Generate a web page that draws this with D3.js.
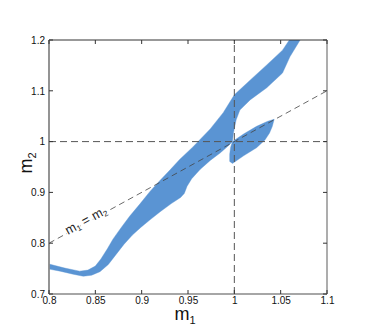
<!DOCTYPE html>
<html><head><meta charset="utf-8">
<script src="https://cdn.jsdelivr.net/npm/d3@7"></script>
<style>
html,body{margin:0;padding:0;background:#fff;}
svg{display:block;font-family:"Liberation Sans",Arial,sans-serif;}
</style></head>
<body>
<svg id="c" width="373" height="332"></svg>
<script>
// ---- data (m1, m2) ----
const xTicks = [0.8, 0.85, 0.9, 0.95, 1, 1.05, 1.1];
const yTicks = [0.7, 0.8, 0.9, 1, 1.1, 1.2];
const xTickLabels = ["0.8", "0.85", "0.9", "0.95", "1", "1.05", "1.1"];
const yTickLabels = ["0.7", "0.8", "0.9", "1", "1.1", "1.2"];
// main allowed region: upper-left boundary (left -> top)
const mainUpper = [
  [0.800,0.759],[0.817,0.751],[0.833,0.745],[0.842,0.747],[0.850,0.755],[0.856,0.769],
  [0.863,0.789],[0.869,0.808],[0.878,0.831],[0.887,0.853],[0.898,0.877],[0.909,0.902],
  [0.920,0.924],[0.931,0.945],[0.941,0.965],[0.955,0.989],[0.974,1.025],[0.988,1.057],
  [1.000,1.092],[1.017,1.121],[1.035,1.151],[1.052,1.180],[1.063,1.210]
];
// right boundary (top -> pinch)
const mainRight = [
  [1.076,1.210],[1.071,1.200],[1.060,1.167],[1.052,1.135],[1.035,1.106],[1.017,1.082],
  [1.006,1.062],[1.002,1.043],[0.999,1.017],[0.998,1.000]
];
// lower boundary (pinch -> left)
const mainLower = [
  [0.993,0.991],[0.985,0.978],[0.974,0.963],[0.963,0.945],[0.954,0.927],[0.949,0.912],
  [0.946,0.898],[0.942,0.890],[0.932,0.878],[0.920,0.862],[0.909,0.846],[0.899,0.831],
  [0.890,0.816],[0.881,0.798],[0.872,0.777],[0.864,0.758],[0.855,0.744],[0.846,0.737],
  [0.837,0.735],[0.826,0.739],[0.812,0.745],[0.800,0.749]
];
// small lobe right of m1 = 1
const lobe = [
  [0.998,1.000],[1.010,1.015],[1.024,1.030],[1.036,1.040],[1.043,1.044],
  [1.041,1.030],[1.038,1.017],[1.033,1.003],[1.024,0.988],[1.010,0.972],[0.998,0.957],
  [0.995,0.961],[0.995,0.975],[0.996,0.989]
];
const diagonal = [[0.8,0.8],[1.1,1.1]];
const refM = 1;

// ---- drawing ----
const svg = d3.select("#c");
const L = 49, R = 327, T = 40, B = 294;
const x = d3.scaleLinear().domain([0.8,1.1]).range([L,R]);
const y = d3.scaleLinear().domain([0.7,1.2]).range([B,T]);

svg.append("defs").append("clipPath").attr("id","pc")
  .append("rect").attr("x",L).attr("y",T).attr("width",R-L).attr("height",B-T);

const g = svg.append("g").attr("clip-path","url(#pc)");
const line = d3.line().x(d=>x(d[0])).y(d=>y(d[1]));
const fill = "#5a94d3";
g.append("path").attr("d", line(mainUpper.concat(mainRight, mainLower))+"Z")
  .attr("fill",fill).attr("stroke",fill).attr("stroke-width",0.4);
g.append("path").attr("d", line(lobe)+"Z")
  .attr("fill",fill).attr("stroke",fill).attr("stroke-width",0.4);

// reference dashed lines
g.append("line").attr("x1",x(refM)).attr("x2",x(refM)).attr("y1",y(0.7)).attr("y2",y(1.2))
  .attr("stroke","#555").attr("stroke-width",1).attr("stroke-dasharray","7,4");
g.append("line").attr("x1",x(0.8)).attr("x2",x(1.1)).attr("y1",y(refM)).attr("y2",y(refM))
  .attr("stroke","#555").attr("stroke-width",1).attr("stroke-dasharray","7,4");
g.append("path").attr("d", line(diagonal)).attr("fill","none")
  .attr("stroke","#444").attr("stroke-width",0.8).attr("stroke-dasharray","6,4");

// label on diagonal
const ang = Math.atan2(y(1.1)-y(0.8), x(1.1)-x(0.8))*180/Math.PI;
const lp = [0.8195, 0.8195];
const lt = svg.append("text")
  .attr("transform",`translate(${x(lp[0])},${y(lp[1])}) rotate(${ang})`)
  .attr("dy",2).attr("font-size",13).attr("fill","#222")
  .attr("stroke","#fff").attr("stroke-width",2.5).attr("paint-order","stroke");
lt.append("tspan").text("m");
lt.append("tspan").attr("font-size",8).attr("dy",2).text("1");
lt.append("tspan").attr("dy",-2).text(" = m");
lt.append("tspan").attr("font-size",8).attr("dy",2).text("2");

// frame
svg.append("line").attr("x1",L).attr("x2",R).attr("y1",T).attr("y2",T).attr("stroke","#333").attr("stroke-width",1);
svg.append("line").attr("x1",R).attr("x2",R).attr("y1",T).attr("y2",B).attr("stroke","#999").attr("stroke-width",1.6);
svg.append("line").attr("x1",L).attr("x2",R).attr("y1",B).attr("y2",B).attr("stroke","#888").attr("stroke-width",1.6);
svg.append("line").attr("x1",L).attr("x2",L).attr("y1",T).attr("y2",B).attr("stroke","#888").attr("stroke-width",1.8);

// ticks (inside, all four sides)
const tk = 4;
xTicks.forEach(v=>{
  svg.append("line").attr("x1",x(v)).attr("x2",x(v)).attr("y1",B).attr("y2",B-tk).attr("stroke","#333");
  svg.append("line").attr("x1",x(v)).attr("x2",x(v)).attr("y1",T).attr("y2",T+tk).attr("stroke","#333");
});
yTicks.forEach(v=>{
  svg.append("line").attr("x1",L).attr("x2",L+tk).attr("y1",y(v)).attr("y2",y(v)).attr("stroke","#333");
  svg.append("line").attr("x1",R).attr("x2",R-tk).attr("y1",y(v)).attr("y2",y(v)).attr("stroke","#333");
});
// tick labels via axes
const xAxis = d3.axisBottom(x).tickValues(xTicks).tickSize(0).tickPadding(0)
  .tickFormat((d,i)=>xTickLabels[i]);
const xa = svg.append("g").attr("transform",`translate(0,${B})`).call(xAxis);
xa.select(".domain").remove();
xa.selectAll("text").attr("font-size",10).attr("fill","#111").attr("y",9.5).attr("dy",0)
  .attr("font-family","Liberation Sans, Arial, sans-serif");
const yAxis = d3.axisLeft(y).tickValues(yTicks).tickSize(0).tickPadding(4)
  .tickFormat((d,i)=>yTickLabels[i]);
const ya = svg.append("g").attr("transform",`translate(${L},0)`).call(yAxis);
ya.select(".domain").remove();
ya.selectAll("text").attr("font-size",10).attr("fill","#111")
  .attr("font-family","Liberation Sans, Arial, sans-serif");

// axis titles
const xt = svg.append("text").attr("x",185).attr("y",320).attr("text-anchor","middle")
  .attr("font-size",18).attr("fill","#111");
xt.append("tspan").text("m");
xt.append("tspan").attr("font-size",11).attr("dy",4).text("1");
const yt = svg.append("text").attr("transform","translate(32,163) rotate(-90)").attr("text-anchor","middle")
  .attr("font-size",18).attr("fill","#111");
yt.append("tspan").text("m");
yt.append("tspan").attr("font-size",11).attr("dy",4).text("2");
</script>
</body></html>
